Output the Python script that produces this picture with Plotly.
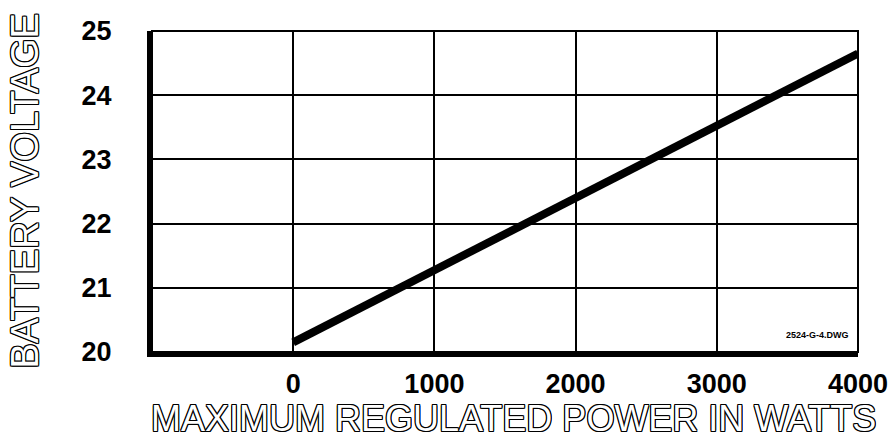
import plotly.graph_objects as go

# Data
power_w = [0, 4000]
voltage_v = [20.15, 24.65]
x_ticks = [0, 1000, 2000, 3000, 4000]
x_tick_labels = ["0", "1000", "2000", "3000", "4000"]
y_ticks = [20, 21, 22, 23, 24, 25]
y_tick_labels = ["20", "21", "22", "23", "24", "25"]

outline = "1px 0 0 #000, -1px 0 0 #000, 0 1px 0 #000, 0 -1px 0 #000, 1px 1px 0 #000, -1px -1px 0 #000, 1px -1px 0 #000, -1px 1px 0 #000"

fig = go.Figure()
fig.add_trace(go.Scatter(x=power_w, y=voltage_v, mode="lines",
                         line=dict(color="black", width=8), showlegend=False,
                         hoverinfo="skip"))

tick_font = dict(family="Liberation Sans, Arial, sans-serif", size=27, color="black", weight="bold")

fig.update_layout(
    width=892, height=440,
    margin=dict(l=152, r=34, t=31, b=88, autoexpand=False),
    paper_bgcolor="white", plot_bgcolor="white",
    showlegend=False,
    xaxis=dict(range=[-1000, 4000], tickvals=x_ticks, ticktext=x_tick_labels,
               showgrid=True, gridcolor="black", gridwidth=1.5,
               showline=True, linecolor="black", linewidth=5,
               ticks="", ticklabelstandoff=4, tickfont=tick_font,
               zeroline=False, fixedrange=True, automargin=False),
    yaxis=dict(range=[20, 25], tickvals=y_ticks, ticktext=y_tick_labels,
               showgrid=True, gridcolor="black", gridwidth=1.5,
               showline=True, linecolor="black", linewidth=5,
               ticks="", ticklabelstandoff=30, tickfont=tick_font,
               zeroline=False, fixedrange=True, automargin=False),
    shapes=[dict(type="rect", xref="x domain", yref="y domain", x0=0, x1=1, y0=0, y1=1,
                 line=dict(color="black", width=2), layer="above")],
    annotations=[
        dict(text="BATTERY VOLTAGE", xref="paper", yref="paper", x=0, y=0.5,
             xanchor="right", yanchor="middle", xshift=-105, textangle=-90, showarrow=False,
             font=dict(family="Liberation Sans, Arial", size=38,
                       color="white", shadow=outline)),
        dict(text="MAXIMUM REGULATED POWER IN WATTS", xref="paper", yref="paper", x=0.5, y=0,
             xanchor="center", yanchor="top", yshift=-44, xshift=8, showarrow=False,
             font=dict(family="Liberation Sans, Arial", size=36,
                       color="white", shadow=outline)),
        dict(text="2524-G-4.DWG", xref="x domain", yref="y domain", x=0.99, y=0.03,
             xanchor="right", yanchor="bottom", showarrow=False,
             font=dict(family="Liberation Sans, Arial", size=9,
                       color="black", weight="bold")),
    ],
)

fig.write_html("out.html", post_script="document.body.style.margin='0';",
               config={"displayModeBar": False})
